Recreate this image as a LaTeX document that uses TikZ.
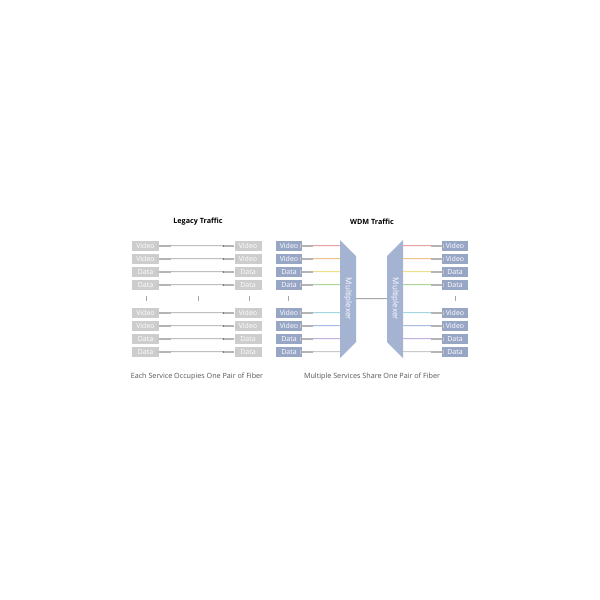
\documentclass[tikz,border=0pt]{standalone}
\usepackage{fontspec}
\setmainfont{Open Sans}
\usetikzlibrary{calc}
\definecolor{legacygray}{HTML}{CDCDCD}
\definecolor{wdmblue}{HTML}{98A6C6}
\definecolor{muxblue}{HTML}{A5B3D2}
\definecolor{pluggray}{HTML}{B4B4B4}
\definecolor{capgray}{HTML}{555555}
\definecolor{fibA}{HTML}{E6A3A3}
\definecolor{fibB}{HTML}{EFC48A}
\definecolor{fibC}{HTML}{EEE08A}
\definecolor{fibD}{HTML}{AFD69A}
\definecolor{fibE}{HTML}{A3D6DE}
\definecolor{fibF}{HTML}{A8BCE6}
\definecolor{fibG}{HTML}{C3B0E0}
\definecolor{fibH}{HTML}{C9C9C9}
\newcommand*{\legL}{145.5}
\newcommand*{\legR}{248}
\newcommand*{\wdmL}{289}
\newcommand*{\wdmR}{455}
\newcommand*{\midy}{299}
\tikzset{
  legacybox/.style={fill=legacygray, text=white, minimum width=27pt, minimum height=9.5pt,
    inner sep=0pt, font=\fontsize{7}{7}\selectfont},
  wdmbox/.style={legacybox, fill=wdmblue, minimum width=26pt},
  plug/.style={pluggray, line width=2.8pt},
  port/.style={white!55!gray, line width=0.5pt},
  fiber/.style={draw=#1, line width=0.35pt, double=white!85!#1, double distance=0.5pt},
  divider/.style={gray!70, line width=0.4pt},
  title/.style={font=\fontsize{7.2}{8}\selectfont\bfseries},
  caption/.style={text=capgray, font=\fontsize{7.2}{8}\selectfont},
  muxtext/.style={text=white, rotate=-90, font=\fontsize{8}{9}\selectfont}
}

\begin{document}
\begin{tikzpicture}[x=1pt,y=-1pt]
    \useasboundingbox [fill=white] (0,0) rectangle (600,600);
    \node [title] (legtitle) at (198,222) {Legacy Traffic};
    \node [title] (wdmtitle) at (372,222) {WDM Traffic};
    % multiplexers
    \fill [muxblue] (340,240) -- (356,256) -- (356,342) -- (340,358) -- cycle;
    \fill [muxblue] (403,240) -- (387,256) -- (387,342) -- (403,358) -- cycle;
    \node [muxtext] (muxl) at (348,\midy) {Multiplexer};
    \node [muxtext] (muxr) at (395,\midy) {Multiplexer};
    \coordinate (muxlin)  at (340,\midy);
    \coordinate (muxlout) at (356,\midy);
    \coordinate (muxrin)  at (387,\midy);
    \coordinate (muxrout) at (403,\midy);
    \draw [fiber=gray!70] (muxlout) -- (muxrin);
    \foreach \y/\lab/\col [count=\i] in {246/Video/fibA, 259/Video/fibB, 272/Data/fibC, 285/Data/fibD,
                                         313/Video/fibE, 326/Video/fibF, 339/Data/fibG, 352/Data/fibH} {
        % legacy: one fiber pair per service
        \node [legacybox] (legl\i) at (\legL,\y) {\lab};
        \node [legacybox] (legr\i) at (\legR,\y) {\lab};
        \draw [port] ($(legl\i.north east)+(-1.5,2.5)$) -- ($(legl\i.south east)+(-1.5,-2.5)$);
        \draw [port] ($(legr\i.north west)+(1.5,2.5)$) -- ($(legr\i.south west)+(1.5,-2.5)$);
        \draw [plug] (legl\i.east) -- ++(12,0) coordinate (legpa\i);
        \draw [plug] (legr\i.west) -- ++(-11,0) coordinate (legpb\i);
        \draw [fiber=gray!50] (legpa\i) -- (legpb\i);
        \fill [black!60] (legpb\i) circle (0.8);
        % wdm: all services into the multiplexer
        \node [wdmbox] (wdml\i) at (\wdmL,\y) {\lab};
        \node [wdmbox] (wdmr\i) at (\wdmR,\y) {\lab};
        \draw [port] ($(wdml\i.north east)+(-1.5,2.5)$) -- ($(wdml\i.south east)+(-1.5,-2.5)$);
        \draw [port] ($(wdmr\i.north west)+(1.5,2.5)$) -- ($(wdmr\i.south west)+(1.5,-2.5)$);
        \draw [plug] (wdml\i.east) -- ++(11,0) coordinate (wdmpa\i);
        \draw [plug] (wdmr\i.west) -- ++(-11,0) coordinate (wdmpb\i);
        \draw [fiber=\col] (wdmpa\i) -- (wdmpa\i -| muxlin);
        \draw [fiber=\col] (wdmpb\i -| muxrout) -- (wdmpb\i);
    }
    \draw [divider] (146,296) -- (146,301);
    \draw [divider] (198,296) -- (198,301);
    \draw [divider] (249,296) -- (249,301);
    \draw [divider] (288,296) -- (288,301);
    \draw [divider] (455,296) -- (455,301);
    \node [caption] (legcap) at (197,377) {Each Service Occupies One Pair of Fiber};
    \node [caption] (wdmcap) at (372,377) {Multiple Services Share One Pair of Fiber};
\end{tikzpicture}
\end{document}
